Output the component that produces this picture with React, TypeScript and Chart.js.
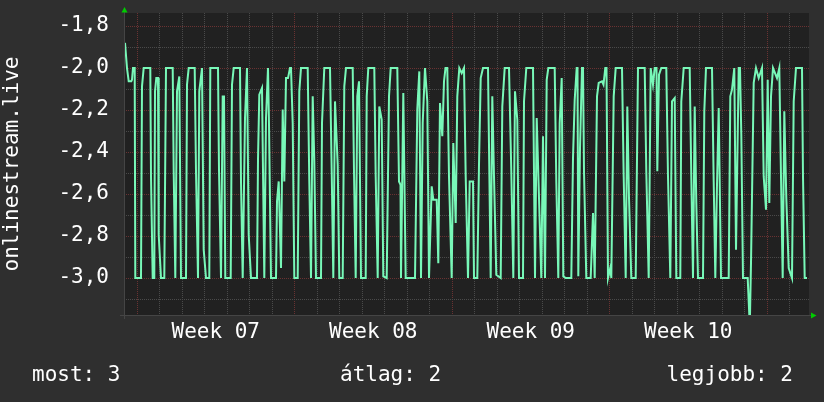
import { useEffect, useRef } from "react";
import { Chart, registerables } from "chart.js";

Chart.register(...registerables);

// ---- data -------------------------------------------------------------
const SAMPLE_MINUTES = 64; // one consolidated sample = 64 minutes
const SAMPLES_PER_DAY = 1440 / SAMPLE_MINUTES; // 22.5
const FIRST_WEEK_START = 13; // sample index where "Week 07" begins
const SAMPLE_COUNT = 685;

const WEEK_LABELS = ["Week 07", "Week 08", "Week 09", "Week 10"];

const Y_MIN = -3.176;
const Y_MAX = -1.738;
const Y_TICKS = [-3.1, -3.0, -2.9, -2.8, -2.7, -2.6, -2.5, -2.4, -2.3, -2.2, -2.1, -2.0, -1.9, -1.8];

const Y_TITLE = "onlinestream.live";

const LEGEND_NAMES = ["most", "átlag", "legjobb"];
const LEGEND_VALUES = ["3", "2", "2"];

const SAMPLE_INDEX = [
  1.0, 3.0, 4.7, 7.3, 8.0, 9.0, 10.7, 11.3, 17.0, 18.0, 19.7, 26.3, 27.0, 28.7, 30.3, 31.0, 32.3, 34.0, 34.7, 37.0,
  40.3, 42.0, 48.7, 49.7, 51.3, 53.0, 55.3, 57.0, 62.0, 63.0, 64.7, 70.7, 72.0, 74.0, 75.3, 78.0, 79.7, 82.0, 85.3, 86.3,
  94.0, 95.0, 97.0, 98.7, 100.0, 101.3, 106.7, 108.0, 109.7, 116.0,
  117.0, 118.7, 121.0, 123.0, 124.7, 127.0, 133.0, 134.0, 135.3, 138.0, 140.3, 142.0, 144.0, 145.0, 147.0, 152.0, 153.0,
  154.7, 157.0, 158.7, 160.3, 162.0, 164.0, 166.0, 167.0, 168.7, 170.3, 173.7, 175.3, 177.0, 183.7, 185.3, 187.0, 188.7,
  190.3, 192.0, 197.0, 198.0, 200.3, 206.0, 207.7, 209.3, 211.0, 213.7, 215.3, 218.7, 220.3, 222.0, 228.7,
  230.0, 231.7, 233.3, 235.0, 237.0, 241.7, 242.7, 244.3, 250.3, 251.7, 253.7, 255.3, 257.7, 259.3, 262.7, 265.0, 266.7,
  273.3, 275.0, 276.5, 277.0, 279.3, 281.7, 291.0, 293.3, 295.3, 297.0, 298.7, 301.0, 303.3, 305.0, 307.7, 309.3, 312.7,
  314.3, 316.0, 318.3, 320.0, 321.5, 323.3, 325.0, 327.7, 329.3, 331.7, 333.3, 335.3, 337.7, 340.0,
  341.7, 344.0, 345.7, 349.0, 350.0, 353.3, 355.0, 356.7, 359.0, 364.0, 366.7, 368.3, 370.0, 372.3, 376.7, 378.3, 380.7,
  385.0, 387.3, 389.3, 391.0, 393.3, 395.0, 399.0, 400.0, 402.3, 409.0, 411.0, 412.7, 415.0, 417.3, 419.0, 421.0, 422.7,
  424.3, 430.7, 432.3, 434.3, 435.7, 437.7, 439.3, 441.7, 447.3, 449.0, 450.7, 452.7, 453.5, 454.3,
  456.0, 458.0, 459.0, 460.0, 462.3, 466.7, 469.0, 470.7, 473.0, 474.7, 478.0, 479.5, 481.3, 482.5, 484.0, 486.3, 487.3,
  489.7, 491.7, 498.0, 499.7, 501.7, 503.3, 505.0, 507.3, 511.7, 514.0, 520.7, 522.3, 524.7, 526.7, 529.0, 530.7, 532.5,
  533.3, 535.0, 537.3, 542.3, 544.0, 546.3, 548.0, 550.7, 552.3, 556.3, 557.3, 559.7, 565.7, 567.3, 569.0,
  570.7, 572.3, 574.0, 579.0, 580.3, 582.0, 588.0, 589.7, 591.3, 593.0, 594.7, 597.0, 604.7, 606.3, 608.0, 610.3, 612.0,
  614.7, 616.0, 617.3, 619.0, 623.7, 625.3, 626.0, 627.0, 629.7, 632.0, 634.7, 638.0, 639.7, 642.0, 643.7, 645.3, 647.0,
  649.0, 653.0, 655.3, 657.0, 658.7, 660.3, 662.3, 664.7, 668.0, 669.7, 672.0, 678.0, 679.0, 680.7, 683.0,
];

const VALUES = [
  -1.88, -2.0, -2.063, -2.063, -2.056, -2.0, -2.0, -3.0, -3.0, -2.087, -2.0, -2.0, -2.516, -3.0, -3.0, -2.111, -2.048, -2.048, -2.794, -3.0,
  -3.0, -2.0, -2.0, -2.492, -3.0, -2.111, -2.04, -3.0, -3.0, -2.079, -2.0, -2.0, -2.492, -3.0, -2.111, -2.0, -2.865, -3.0, -3.0, -2.0,
  -2.0, -2.484, -3.0, -2.135, -2.135, -3.0, -3.0, -2.079, -2.0, -2.0,
  -2.54, -3.0, -2.238, -2.0, -2.794, -3.0, -3.0, -2.437, -2.127, -2.095, -3.0, -2.238, -2.0, -2.27, -3.0, -3.0, -2.635,
  -2.54, -2.952, -2.198, -2.54, -2.048, -2.048, -2.0, -2.0, -2.262, -3.0, -3.0, -2.111, -2.0, -2.0, -2.54, -3.0, -2.135,
  -2.444, -3.0, -3.0, -2.262, -2.0, -2.0, -2.492, -3.0, -2.159, -2.46, -3.0, -3.0, -2.087, -2.0, -2.0,
  -2.492, -3.0, -2.135, -2.063, -3.0, -3.0, -2.135, -2.0, -2.0, -2.516, -3.0, -2.183, -2.246, -2.992, -3.0, -2.135, -2.0,
  -2.0, -2.54, -2.556, -3.0, -2.119, -3.0, -3.0, -2.198, -2.016, -3.0, -2.262, -2.0, -2.159, -3.0, -2.563, -2.627, -2.627,
  -2.929, -2.167, -2.325, -2.063, -2.0, -2.0, -2.516, -3.0, -2.357, -2.738, -2.135, -2.0, -2.024, -2.0,
  -2.516, -3.0, -2.54, -2.54, -3.0, -3.0, -2.46, -2.048, -2.0, -2.0, -3.0, -2.135, -2.516, -2.984, -3.0, -2.183, -2.0,
  -2.0, -2.492, -3.0, -2.111, -2.246, -3.0, -3.0, -2.159, -2.0, -2.0, -3.0, -2.238, -2.619, -3.0, -2.325, -3.0, -2.056,
  -2.0, -2.0, -2.54, -3.0, -2.262, -2.048, -2.992, -3.0, -3.0, -2.429, -2.151, -2.0, -2.0, -2.992,
  -2.381, -2.0, -2.0, -2.492, -3.0, -3.0, -2.69, -3.0, -2.135, -2.071, -2.063, -2.079, -2.0, -2.0, -3.0, -2.952, -3.0,
  -2.135, -2.0, -2.0, -2.516, -3.0, -2.183, -2.619, -3.0, -3.0, -2.0, -2.0, -2.492, -3.0, -2.0, -2.079, -2.0, -2.0,
  -2.492, -2.032, -2.0, -2.0, -2.516, -3.0, -2.159, -2.143, -3.0, -3.0, -2.159, -2.0, -2.0, -2.516, -3.0,
  -2.183, -2.643, -3.0, -3.0, -2.206, -2.0, -2.0, -2.54, -3.0, -2.556, -2.19, -3.0, -3.0, -2.135, -2.103, -2.0, -2.865,
  -2.0, -2.0, -2.317, -3.0, -3.0, -3.175, -3.175, -2.929, -2.071, -2.0, -2.048, -2.0, -2.516, -2.675, -2.056, -2.643, -2.135,
  -2.0, -2.048, -2.0, -2.516, -3.0, -2.206, -2.619, -2.952, -3.0, -2.159, -2.0, -2.0, -2.516, -3.0, -3.0,
];

// ---- style ------------------------------------------------------------
const FONT = "'DejaVu Sans Mono', monospace";
const FONT_SIZE = 21;
const OUTER_BG = "#2f2f2f";
const PLOT_BG = "#212121";
const LINE_COLOR = "#78f8b8";
const MAJOR_GRID = "#6a3232";
const MINOR_GRID = "#4a4a4a";
const AXIS_COLOR = "#454545";
const ARROW_COLOR = "#00cc00";
const TEXT_COLOR = "#ffffff";

const fmt = (v: number) => v.toFixed(1).replace(".", ",");
const isMajorY = (v: number) => Math.round(Math.abs(v) * 10) % 2 === 0;

const decorPlugin = {
  id: "rrdDecor",
  beforeDraw(chart: any) {
    const { ctx, width, height, chartArea: a } = chart;
    ctx.save();
    ctx.fillStyle = OUTER_BG;
    ctx.fillRect(0, 0, width, height);
    ctx.fillStyle = PLOT_BG;
    ctx.fillRect(a.left, a.top, a.right - a.left, a.bottom - a.top);
    ctx.restore();
  },
  afterDatasetsDraw(chart: any) {
    const { ctx, chartArea: a } = chart;
    ctx.save();
    // axis lines
    ctx.strokeStyle = AXIS_COLOR;
    ctx.lineWidth = 1;
    ctx.beginPath();
    ctx.moveTo(a.left - 4, a.bottom + 0.5);
    ctx.lineTo(a.right + 3, a.bottom + 0.5);
    ctx.moveTo(a.left + 0.5, a.top - 3);
    ctx.lineTo(a.left + 0.5, a.bottom + 4);
    ctx.stroke();
    // arrows
    ctx.fillStyle = ARROW_COLOR;
    ctx.beginPath();
    ctx.moveTo(a.left - 2.5, a.top - 0.5);
    ctx.lineTo(a.left + 3.5, a.top - 0.5);
    ctx.lineTo(a.left + 0.5, a.top - 6);
    ctx.closePath();
    ctx.fill();
    ctx.beginPath();
    ctx.moveTo(a.right + 2, a.bottom - 2.5);
    ctx.lineTo(a.right + 2, a.bottom + 3.5);
    ctx.lineTo(a.right + 7.5, a.bottom + 0.5);
    ctx.closePath();
    ctx.fill();
    // legend line
    ctx.fillStyle = TEXT_COLOR;
    ctx.font = `${FONT_SIZE}px ${FONT}`;
    ctx.textBaseline = "alphabetic";
    const items = LEGEND_NAMES.map((n, i) => `${n}: ${LEGEND_VALUES[i]}`);
    ctx.textAlign = "left";
    ctx.fillText(items[0], 32, 381);
    ctx.fillText(items[1], 340, 381);
    ctx.textAlign = "right";
    ctx.fillText(items[2], 793, 381);
    ctx.restore();
  },
};

export default function App() {
  const ref = useRef<HTMLCanvasElement | null>(null);

  useEffect(() => {
    document.body.style.margin = "0";
    document.body.style.background = OUTER_BG;
    const canvas = ref.current;
    if (!canvas) return;

    const points = SAMPLE_INDEX.map((x, i) => ({ x, y: VALUES[i] }));

    const chart = new Chart(canvas, {
      type: "line",
      data: {
        datasets: [
          {
            data: points,
            borderColor: LINE_COLOR,
            borderWidth: 2,
            pointRadius: 0,
            tension: 0,
            fill: false,
          },
        ],
      },
      options: {
        animation: false,
        responsive: false,
        devicePixelRatio: 1,
        parsing: false,
        normalized: true,
        layout: { padding: { top: 13, right: 15, bottom: 0, left: 0 } },
        plugins: { legend: { display: false }, tooltip: { enabled: false }, title: { display: false } },
        scales: {
          x: {
            type: "linear",
            min: 0,
            max: SAMPLE_COUNT,
            afterFit: (s: any) => {
              s.height = 87;
              s.paddingLeft = 0;
              s.paddingRight = 0;
            },
            afterBuildTicks: (s: any) => {
              const ticks: any[] = [];
              for (let d = 0; ; d++) {
                const v = FIRST_WEEK_START + d * SAMPLES_PER_DAY;
                if (v > SAMPLE_COUNT) break;
                ticks.push({ value: v, kind: d % 7 === 0 ? "week" : "day" });
              }
              WEEK_LABELS.forEach((label, i) => {
                ticks.push({ value: FIRST_WEEK_START + (i * 7 + 3.5) * SAMPLES_PER_DAY, kind: "label", text: label });
              });
              ticks.sort((p, q) => p.value - q.value);
              s.ticks = ticks;
            },
            ticks: {
              autoSkip: false,
              maxRotation: 0,
              minRotation: 0,
              padding: 5,
              color: TEXT_COLOR,
              font: { family: FONT, size: FONT_SIZE },
              callback: (_v: any, i: number, ticks: any[]) => (ticks[i].kind === "label" ? ticks[i].text : ""),
            },
            grid: {
              drawTicks: false,
              lineWidth: 1,
              color: (c: any) =>
                c.tick?.kind === "week" ? MAJOR_GRID : c.tick?.kind === "day" ? MINOR_GRID : "rgba(0,0,0,0)",
            },
            border: { display: false, dash: [1, 1] },
          },
          y: {
            type: "linear",
            min: Y_MIN,
            max: Y_MAX,
            afterFit: (s: any) => {
              s.width = 124;
              s.paddingTop = 0;
              s.paddingBottom = 0;
            },
            afterBuildTicks: (s: any) => {
              s.ticks = Y_TICKS.map((v) => ({ value: v }));
            },
            ticks: {
              autoSkip: false,
              padding: 15,
              color: TEXT_COLOR,
              font: { family: FONT, size: FONT_SIZE },
              callback: (v: any) => (isMajorY(Number(v)) ? fmt(Number(v)) : ""),
            },
            grid: {
              drawTicks: false,
              lineWidth: 1,
              color: (c: any) => (c.tick && isMajorY(c.tick.value) ? MAJOR_GRID : MINOR_GRID),
            },
            border: { display: false, dash: [1, 1] },
            title: {
              display: true,
              text: Y_TITLE,
              color: TEXT_COLOR,
              font: { family: FONT, size: FONT_SIZE },
              padding: 0,
            },
          },
        },
      },
      plugins: [decorPlugin],
    } as any);

    return () => chart.destroy();
  }, []);

  return (
    <div style={{ width: 824, height: 402, background: OUTER_BG }}>
      <canvas ref={ref} width={824} height={402} style={{ display: "block", width: 824, height: 402 }} />
    </div>
  );
}
